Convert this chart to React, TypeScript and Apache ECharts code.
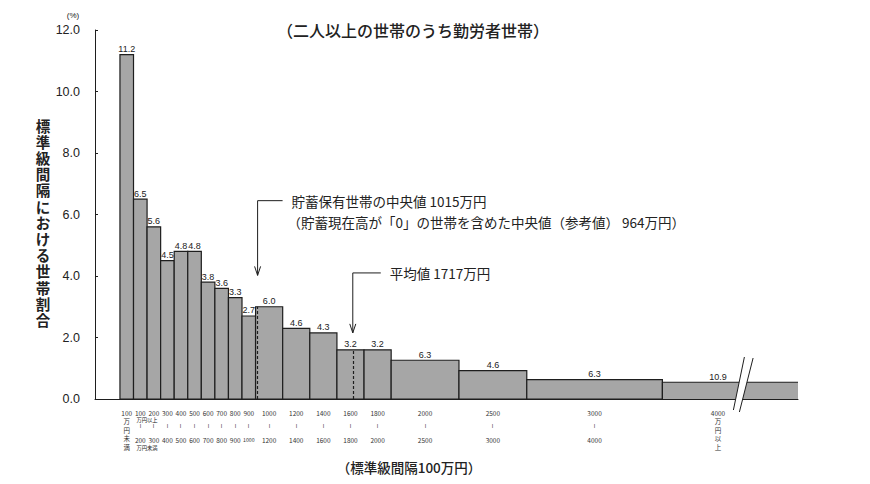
import React, { useEffect, useRef } from "react";
import * as echarts from "echarts";

// 貯蓄現在高階級（万円）
const lowerBounds = [0, 100, 200, 300, 400, 500, 600, 700, 800, 900, 1000, 1200, 1400, 1600, 1800, 2000, 2500, 3000, 4000];
const upperBounds = [100, 200, 300, 400, 500, 600, 700, 800, 900, 1000, 1200, 1400, 1600, 1800, 2000, 2500, 3000, 4000, 5000];
// 各階級の世帯割合（%）
const shares = [11.2, 6.5, 5.6, 4.5, 4.8, 4.8, 3.8, 3.6, 3.3, 2.7, 6.0, 4.6, 4.3, 3.2, 3.2, 6.3, 4.6, 6.3, 10.9];
// 標準級間隔(100万円)に対する階級幅
const classWidths = [1, 1, 1, 1, 1, 1, 1, 1, 1, 1, 2, 2, 2, 2, 2, 5, 5, 10, 20];
// x軸の階級ラベル
const rangeFrom = ["100", "100", "200", "300", "400", "500", "600", "700", "800", "900", "1000", "1200", "1400", "1600", "1800", "2000", "2500", "3000", "4000"];
const rangeTo = ["万円未満", "200", "300", "400", "500", "600", "700", "800", "900", "1000", "1200", "1400", "1600", "1800", "2000", "2500", "3000", "4000", "万円以上"];
const yTicks = [0, 2, 4, 6, 8, 10, 12];

const median = 1015;
const mean = 1717;
const breakAt = 4590; // 省略線の位置
const openLabelAt = 4410; // 4000万円以上のラベル位置

const NUM_FONT = "'Liberation Sans', Arial, 'Noto Sans CJK JP', sans-serif";
const JP_FONT = "'Noto Sans CJK JP', 'Liberation Sans', sans-serif";
const INK = "#1e1e1e";

const densityAt = (v: number) => {
    const i = lowerBounds.findIndex((lo, k) => v >= lo && v < upperBounds[k]);
    return shares[i] / classWidths[i];
};

const App: React.FC = () => {
    const ref = useRef<HTMLDivElement>(null);

    useEffect(() => {
        if (!ref.current) return;
        const chart = echarts.init(ref.current, null, { renderer: "svg" });

        const data = lowerBounds.map((lo, i) => [lo, upperBounds[i], shares[i] / classWidths[i], shares[i]]);
        const last = shares.length - 1;

        const option: any = {
            animation: false,
            grid: { left: 95, right: 72, top: 30, bottom: 85 },
            xAxis: {
                type: "value",
                min: -184,
                max: 5000,
                axisLine: { lineStyle: { color: INK, width: 1 } },
                axisTick: { show: false },
                axisLabel: { show: false },
                splitLine: { show: false },
            },
            yAxis: {
                type: "value",
                min: yTicks[0],
                max: yTicks[yTicks.length - 1],
                interval: 2,
                axisLine: { show: true, onZero: false, lineStyle: { color: INK, width: 1 } },
                axisTick: { show: true, inside: true, length: 3, lineStyle: { color: INK } },
                axisLabel: {
                    margin: 15,
                    fontSize: 12.5,
                    fontFamily: NUM_FONT,
                    color: "#222",
                    formatter: (v: number) => v.toFixed(1),
                },
                splitLine: { show: false },
            },
            series: [
                {
                    type: "custom",
                    data,
                    encode: { x: [0, 1], y: 2 },
                    renderItem: (params: any, api: any) => {
                        const i = params.dataIndex;
                        const lo = api.value(0);
                        const hi = api.value(1);
                        const h = api.value(2);
                        const share = api.value(3);
                        const p0 = api.coord([lo, h]);
                        const p1 = api.coord([hi, 0]);
                        const open = i === last;
                        const children: any[] = [
                            {
                                type: "rect",
                                shape: { x: p0[0], y: p0[1], width: p1[0] - p0[0], height: p1[1] - p0[1] },
                                style: { fill: "#a6a6a6", stroke: open ? null : INK, lineWidth: 1.2 },
                            },
                        ];
                        if (open) {
                            children.push({
                                type: "polyline",
                                shape: { points: [[p0[0], p1[1]], [p0[0], p0[1]], [p1[0], p0[1]]] },
                                style: { stroke: INK, fill: null, lineWidth: 1.2 },
                            });
                        }
                        const cx = open ? api.coord([openLabelAt, 0])[0] : (p0[0] + p1[0]) / 2;
                        children.push({
                            type: "text",
                            x: cx,
                            y: p0[1] - 1,
                            style: {
                                text: share.toFixed(1),
                                align: "center",
                                verticalAlign: "bottom",
                                fontSize: 9,
                                fontFamily: NUM_FONT,
                                fill: "#222",
                            },
                        });
                        const to = rangeTo[i];
                        const isOpen = isNaN(Number(to));
                        const lines = isOpen ? [rangeFrom[i], ...to.split("")] : [rangeFrom[i], "~", to];
                        const step = isOpen ? 8.5 : 13.5;
                        const narrow = p1[0] - p0[0] < 20;
                        lines.forEach((t, k) => {
                            const wave = t === "~";
                            children.push({
                                type: "text",
                                x: cx,
                                y: p1[1] + 13.7 + k * step,
                                rotation: wave ? -Math.PI / 2 : 0,
                                style: {
                                    text: t,
                                    align: "center",
                                    verticalAlign: "middle",
                                    fontSize: wave ? 8 : narrow && t.length >= 4 ? 5.2 : 6.5,
                                    fontFamily: wave ? NUM_FONT : JP_FONT,
                                    fill: "#333",
                                },
                            });
                        });
                        return { type: "group", children };
                    },
                    markLine: {
                        silent: true,
                        symbol: "none",
                        label: { show: false },
                        lineStyle: { color: INK, type: [3, 2], width: 1.2 },
                        data: [
                            [{ coord: [median, 0] }, { coord: [median, densityAt(median)] }],
                            [{ coord: [mean, 0] }, { coord: [mean, densityAt(mean)] }],
                        ],
                    },
                },
            ],
        };

        chart.setOption(option);

        const px = (x: number, y: number) => chart.convertToPixel({ gridIndex: 0 }, [x, y]) as number[];
        const line = { stroke: INK, fill: null, lineWidth: 1 };

        // 注記の矢印
        const arrow = (x: number, yTop: number, yTip: number, armLen: number) => [
            { type: "polyline", z: 100, shape: { points: [[x + armLen, yTop], [x, yTop], [x, yTip]] }, style: line },
            { type: "polyline", z: 100, shape: { points: [[x - 3, yTip - 9], [x, yTip], [x + 3, yTip - 9]] }, style: line },
        ];
        const m1 = px(median, 6.45);
        const m1Tip = px(median, 4.02);
        const m2 = px(mean, 4.1);
        const m2Tip = px(mean, 2.15);

        const brk = px(breakAt, 0);

        const text = (t: string, x: number, y: number, size: number, extra: any = {}) => ({
            type: "text",
            z: 100,
            x,
            y,
            style: { text: t, fontSize: size, fontFamily: JP_FONT, fill: "#222", verticalAlign: "middle", ...extra },
        });

        // 縦書きの軸タイトル
        const yTitle = "標準級間隔における世帯割合".split("").map((c, k) =>
            text(c, 43, 125 + k * 16.2, 14.5, { align: "center", fontWeight: "bold", lineHeight: 16 })
        );

        const graphic: any[] = [
            text("（二人以上の世帯のうち勤労者世帯）", 413, 30, 16, { align: "center", fontWeight: 500 }),
            text("(%)", 73, 15, 8, { align: "center", fontFamily: NUM_FONT }),
            ...yTitle,
            text("（標準級間隔100万円）", 409, 467, 13.5, { align: "center", fontWeight: 500 }),
            ...arrow(m1[0], m1[1], m1Tip[1], 25),
            text("貯蓄保有世帯の中央値 1015万円", m1[0] + 34, m1[1], 13.5),
            text("（貯蓄現在高が「0」の世帯を含めた中央値（参考値） 964万円）", m1[0] + 30, m1[1] + 21, 13.5),
            ...arrow(m2[0], m2[1], m2Tip[1], 28),
            text("平均値 1717万円", m2[0] + 37, m2[1], 13.5),
            // 100〜300の共通表記
            text("万円以上", px(200, 0)[0], brk[1] + 20.5, 5.3, { align: "center" }),
            text("万円未満", px(200, 0)[0], brk[1] + 48.5, 5.3, { align: "center" }),
            // 省略記号
            {
                type: "polygon",
                z: 100,
                shape: {
                    points: [
                        [brk[0] - 9, brk[1] + 11],
                        [brk[0] + 2, brk[1] - 42],
                        [brk[0] + 10.7, brk[1] - 41],
                        [brk[0] - 3, brk[1] + 13],
                    ],
                },
                style: { fill: "#fff", stroke: null },
            },
            { type: "line", z: 101, shape: { x1: brk[0] - 9, y1: brk[1] + 11, x2: brk[0] + 2, y2: brk[1] - 42 }, style: line },
            { type: "line", z: 101, shape: { x1: brk[0] - 3, y1: brk[1] + 13, x2: brk[0] + 10.7, y2: brk[1] - 41 }, style: line },
        ];

        chart.setOption({ graphic });

        return () => {
            chart.dispose();
        };
    }, []);

    return <div ref={ref} style={{ position: "absolute", left: 0, top: 0, width: 870, height: 484 }} />;
};

export default App;
